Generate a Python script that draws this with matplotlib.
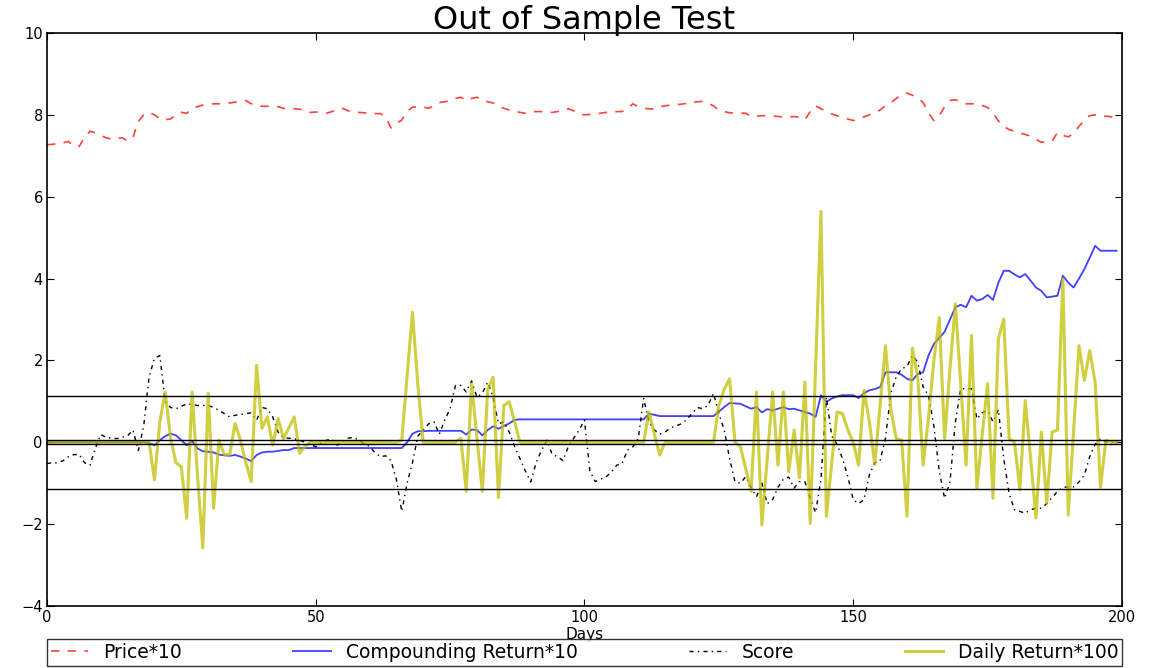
import matplotlib
matplotlib.use("Agg")
import numpy as np
import matplotlib.pyplot as plt

# ──────────────────────────────────────────────
# DATA (one value per day)
# ──────────────────────────────────────────────
price_x10 = [
    7.27, 7.28, 7.30, 7.32, 7.35, 7.23, 7.23, 7.45, 7.60, 7.56,
    7.50, 7.44, 7.41, 7.42, 7.44, 7.36, 7.45, 7.84, 8.00, 8.06,
    8.00, 7.90, 7.88, 7.90, 8.00, 8.06, 8.04, 8.15, 8.20, 8.24,
    8.26, 8.27, 8.27, 8.28, 8.29, 8.31, 8.33, 8.35, 8.27, 8.24,
    8.21, 8.21, 8.22, 8.20, 8.16, 8.14, 8.15, 8.14, 8.10, 8.06,
    8.07, 8.06, 8.04, 8.08, 8.12, 8.16, 8.10, 8.08, 8.06, 8.05,
    8.04, 8.03, 8.03, 7.96, 7.68, 7.80, 7.87, 8.08, 8.19, 8.19,
    8.19, 8.16, 8.22, 8.30, 8.32, 8.35, 8.40, 8.43, 8.35, 8.40,
    8.43, 8.35, 8.32, 8.29, 8.22, 8.16, 8.12, 8.10, 8.06, 8.04,
    8.07, 8.08, 8.08, 8.07, 8.06, 8.08, 8.11, 8.15, 8.10, 8.02,
    8.00, 8.01, 8.03, 8.04, 8.06, 8.07, 8.08, 8.08, 8.15, 8.27,
    8.20, 8.16, 8.15, 8.14, 8.20, 8.22, 8.24, 8.25, 8.26, 8.28,
    8.30, 8.32, 8.33, 8.28, 8.22, 8.11, 8.08, 8.05, 8.04, 8.04,
    8.04, 7.96, 7.97, 7.98, 7.98, 7.97, 7.96, 7.95, 7.95, 7.96,
    7.94, 7.88, 8.08, 8.22, 8.15, 8.08, 8.02, 7.98, 7.94, 7.90,
    7.86, 7.90, 7.95, 8.00, 8.04, 8.12, 8.22, 8.30, 8.40, 8.50,
    8.53, 8.48, 8.42, 8.30, 8.05, 7.86, 7.98, 8.20, 8.35, 8.37,
    8.32, 8.27, 8.27, 8.27, 8.23, 8.18, 8.05, 7.85, 7.72, 7.64,
    7.60, 7.56, 7.52, 7.48, 7.40, 7.33, 7.34, 7.36, 7.57, 7.50,
    7.46, 7.55, 7.72, 7.86, 7.98, 8.00, 7.96, 7.97, 7.95, 7.92,
]

comp_return_x10 = [
    0.00, 0.00, 0.00, 0.00, 0.00, 0.00, 0.00, 0.00, 0.00, 0.00,
    0.00, 0.00, 0.00, 0.00, 0.00, 0.00, 0.00, 0.00, 0.00, -0.02,
    -0.07, 0.05, 0.15, 0.21, 0.17, 0.05, -0.07, 0.03, -0.15, -0.22,
    -0.23, -0.25, -0.30, -0.32, -0.33, -0.31, -0.35, -0.40, -0.46, -0.31,
    -0.25, -0.23, -0.23, -0.21, -0.19, -0.19, -0.14, -0.14, -0.14, -0.14,
    -0.14, -0.14, -0.14, -0.14, -0.14, -0.14, -0.14, -0.14, -0.14, -0.14,
    -0.14, -0.14, -0.14, -0.14, -0.14, -0.14, -0.14, 0.00, 0.21, 0.27,
    0.27, 0.28, 0.28, 0.28, 0.28, 0.28, 0.28, 0.28, 0.19, 0.31,
    0.30, 0.17, 0.30, 0.39, 0.33, 0.40, 0.46, 0.55, 0.56, 0.56,
    0.56, 0.56, 0.56, 0.56, 0.56, 0.56, 0.56, 0.56, 0.56, 0.56,
    0.56, 0.56, 0.56, 0.56, 0.56, 0.56, 0.56, 0.56, 0.56, 0.56,
    0.56, 0.56, 0.70, 0.67, 0.64, 0.64, 0.64, 0.64, 0.64, 0.64,
    0.64, 0.64, 0.64, 0.64, 0.64, 0.75, 0.86, 0.96, 0.95, 0.94,
    0.88, 0.82, 0.86, 0.73, 0.81, 0.78, 0.82, 0.86, 0.81, 0.82,
    0.78, 0.74, 0.70, 0.62, 1.15, 0.99, 1.07, 1.12, 1.15, 1.15,
    1.15, 1.08, 1.20, 1.27, 1.30, 1.35, 1.71, 1.71, 1.71, 1.65,
    1.55, 1.51, 1.67, 1.71, 2.12, 2.40, 2.55, 2.70, 3.00, 3.30,
    3.36, 3.30, 3.58, 3.46, 3.50, 3.60, 3.48, 3.90, 4.19, 4.19,
    4.10, 4.03, 4.11, 3.95, 3.78, 3.70, 3.54, 3.56, 3.58, 4.07,
    3.90, 3.78, 4.00, 4.23, 4.51, 4.80, 4.68, 4.68, 4.68, 4.68,
]

score = [
    -0.52, -0.50, -0.50, -0.45, -0.35, -0.30, -0.30, -0.50, -0.56, -0.15,
    0.19, 0.12, 0.10, 0.09, 0.12, 0.16, 0.30, -0.20, 0.40, 1.60,
    2.05, 2.12, 1.00, 0.85, 0.82, 0.88, 0.94, 0.92, 0.90, 0.90,
    0.90, 0.85, 0.78, 0.70, 0.62, 0.66, 0.68, 0.70, 0.72, 0.54,
    0.85, 0.82, 0.62, 0.25, 0.11, 0.10, 0.09, 0.05, 0.00, -0.05,
    -0.11, -0.02, 0.05, 0.08, -0.07, 0.02, 0.10, 0.12, 0.05, -0.03,
    -0.10, -0.25, -0.35, -0.33, -0.45, -0.90, -1.69, -1.00, -0.50, 0.15,
    0.30, 0.45, 0.50, 0.20, 0.54, 0.82, 1.39, 1.39, 1.23, 1.50,
    1.10, 1.20, 1.47, 1.11, 0.45, 0.50, 0.25, -0.10, -0.40, -0.70,
    -0.97, -0.50, -0.20, 0.05, -0.30, -0.35, -0.45, -0.10, 0.10, 0.30,
    0.54, -0.70, -0.96, -0.90, -0.85, -0.72, -0.56, -0.52, -0.19, -0.11,
    0.09, 1.07, 0.50, 0.30, 0.20, 0.25, 0.35, 0.40, 0.45, 0.55,
    0.70, 0.85, 0.82, 0.90, 1.20, 0.70, 0.30, -0.40, -0.96, -1.00,
    -0.84, -1.10, -1.33, -1.00, -1.50, -1.40, -1.10, -0.90, -0.85, -1.12,
    -0.96, -0.96, -1.37, -1.72, -0.90, 1.10, 0.15, -0.05, -0.40, -0.84,
    -1.40, -1.50, -1.40, -0.80, -0.50, -0.45, 0.10, 1.20, 1.60, 1.80,
    1.85, 2.12, 1.96, 1.35, 1.15, 0.40, -0.70, -1.37, -0.97, 0.50,
    1.31, 1.31, 1.31, 0.57, 0.72, 0.78, 0.50, 0.80, -0.40, -1.25,
    -1.65, -1.69, -1.73, -1.65, -1.61, -1.61, -1.50, -1.35, -1.20, -1.10,
    -1.09, -1.09, -0.97, -0.80, -0.35, -0.05, 0.09, 0.01, 0.00, 0.00,
]

daily_return_x100 = [
    0, 0, 0, 0, 0, 0, 0, 0, 0, 0,
    0, 0, 0, 0, 0, 0, 0, 0, 0, 0,
    -0.92, 0.50, 1.23, 0.10, -0.50, -0.60, -1.86, 1.23, -0.80, -2.58,
    1.20, -1.61, 0.05, -0.30, -0.30, 0.46, 0.05, -0.50, -0.96, 1.88,
    0.34, 0.62, -0.07, 0.58, 0.09, 0.35, 0.62, -0.27, -0.10, 0,
    0, 0, 0, 0, 0, 0, 0, 0, 0, 0,
    0, 0, 0, 0, 0, 0, 0.05, 1.60, 3.18, 1.40,
    0, 0, 0, 0, 0, 0, 0, 0.10, -1.20, 1.43,
    0.10, -1.20, 1.30, 1.59, -1.35, 0.90, 0.99, 0.50, 0, 0,
    0, 0, 0, 0, 0, 0, 0, 0, 0, 0,
    0, 0, 0, 0, 0, 0, 0, 0, 0, 0,
    0, 0, 0.74, 0.20, -0.31, 0, 0, 0, 0, 0,
    0, 0, 0, 0, 0, 0.90, 1.30, 1.55, 0, -0.10,
    -0.65, -1.20, 1.23, -2.02, -0.40, 1.23, -0.56, 1.23, -0.72, 0.30,
    -0.87, 1.47, -1.98, 1.80, 5.64, -1.81, -0.50, 0.74, 0.70, 0.30,
    0, -0.56, 1.27, 0.50, -0.54, 0.90, 2.36, 0.80, 0.09, 0.05,
    -1.81, 2.30, 1.60, -0.56, 0.60, 2.00, 3.05, 0.09, 1.80, 3.38,
    1.40, -0.56, 2.61, -1.12, 0.20, 1.43, -1.37, 2.53, 3.01, 0.09,
    0, -1.16, 1.02, -0.40, -1.85, 0.25, -1.49, 0.25, 0.30, 3.99,
    -1.78, 0.30, 2.36, 1.51, 2.24, 1.47, -1.10, 0.05, 0, 0,
]

band_levels = [1.14, 0.05, -0.05, -1.14]   # black reference lines

SERIES_LABELS = ["Price*10", "Compounding Return*10", "Score", "Daily Return*100"]
SAVE_PATH = "out.png"


def main():
    days = np.arange(len(price_x10))

    fig = plt.figure(figsize=(11.51, 6.68), dpi=100)
    ax = fig.add_axes([0.0408, 0.0928, 0.934, 0.8578])

    ax.plot(days, price_x10, color="r", ls=(0, (5, 5)), lw=1.2, alpha=0.75,
            label=SERIES_LABELS[0])
    ax.plot(days, comp_return_x10, "b-", lw=1.3, alpha=0.75, label=SERIES_LABELS[1])
    ax.plot(days, score, color="k", ls=(0, (3, 3, 1, 3)), lw=1.0,
            label=SERIES_LABELS[2])
    ax.plot(days, daily_return_x100, "y-", lw=2.2, alpha=0.75, label=SERIES_LABELS[3])
    for lvl in band_levels:
        ax.axhline(lvl, color="k", lw=1.0, zorder=5)

    ax.set_xlim(0, 200)
    ax.set_ylim(-4, 10)
    ax.set_xticks([0, 50, 100, 150, 200])
    ax.set_yticks(range(-4, 11, 2))
    ax.tick_params(direction="in", top=True, right=True, labelsize=10.5,
                   length=5, pad=3)
    for sp in ax.spines.values():
        sp.set_linewidth(1.2)

    ax.set_title("Out of Sample Test", fontsize=23, pad=3)
    ax.set_xlabel("Days", fontsize=11, labelpad=1)

    leg = ax.legend(loc="upper left", bbox_to_anchor=(0.0, -0.058, 1.0, 0.0),
                    mode="expand", ncol=4, fontsize=13.5, frameon=True,
                    fancybox=False, borderpad=0.2, borderaxespad=0.0,
                    handlelength=2.0, columnspacing=1.0)
    leg.get_frame().set_edgecolor("k")
    leg.get_frame().set_linewidth(1.0)

    fig.savefig(SAVE_PATH, dpi=100)


if __name__ == "__main__":
    main()
